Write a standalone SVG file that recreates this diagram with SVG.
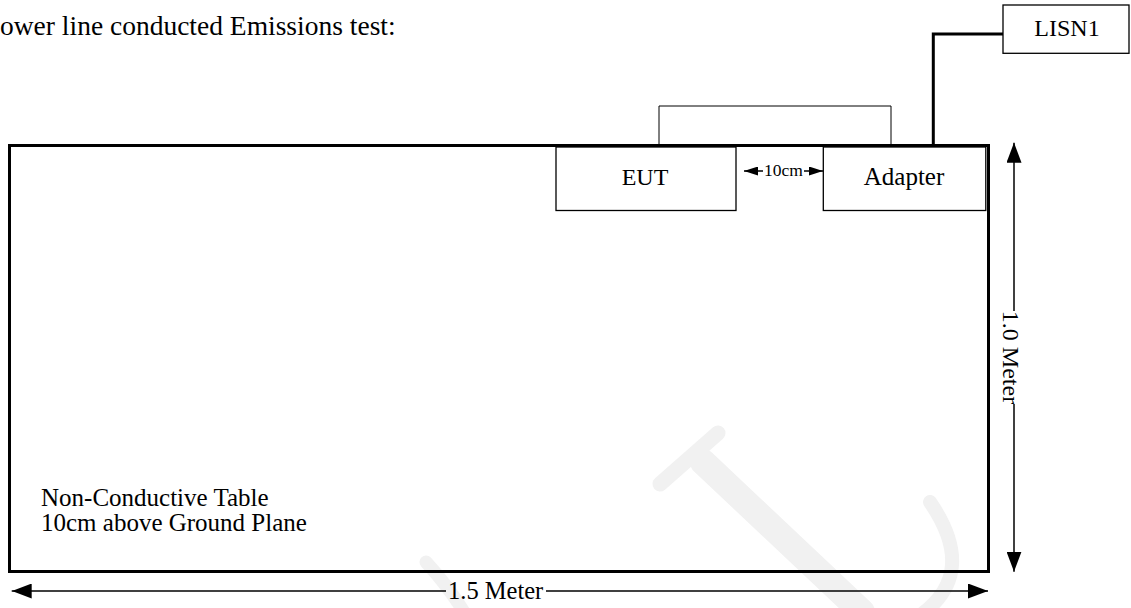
<svg xmlns="http://www.w3.org/2000/svg" width="1131" height="608" viewBox="0 0 1131 608">
<style>
text{font-family:"Liberation Serif","Times New Roman",serif;fill:#000}
.box{fill:#fff;stroke:#000;stroke-width:1.3}
.thick{fill:none;stroke:#000;stroke-width:3}
.thin{fill:none;stroke:#000;stroke-width:1}
.dim{fill:none;stroke:#000;stroke-width:1.5}
.wm{fill:none;stroke:#f1f1f1;stroke-linecap:round}
</style>
<defs>
<marker id="ah" viewBox="0 0 20 15" refX="20" refY="7.5" markerWidth="20" markerHeight="15" markerUnits="userSpaceOnUse" orient="auto"><path d="M0,0 L20,7.5 L0,15 z" fill="#000"/></marker>
<marker id="ahs" viewBox="0 0 14 9" refX="14" refY="4.5" markerWidth="14" markerHeight="9" markerUnits="userSpaceOnUse" orient="auto"><path d="M0,0 L14,4.5 L0,9 z" fill="#000"/></marker>
</defs>
<rect width="1131" height="608" fill="#fff"/>
<g id="watermark">
<path class="wm" d="M703,462 L862,612" stroke-width="26" stroke-linecap="butt"/>
<path class="wm" d="M660,484 L718,433" stroke-width="15"/>
<path class="wm" d="M930,502 Q978,572 922,614" stroke-width="14"/>
<path class="wm" d="M426,562 Q448,586 464,612" stroke-width="13"/>
</g>
<text id="title" x="0" y="35" font-size="27.5">ower line conducted Emissions test:</text>
<g id="table">
<rect x="9.5" y="145.5" width="979" height="426" class="thick"/>
<text x="41" y="506" font-size="25">Non-Conductive Table</text>
<text x="41" y="531" font-size="25">10cm above Ground Plane</text>
</g>
<g id="connectors">
<path class="thin" d="M659,145 V106 H891 V145"/>
<path class="thick" d="M933.3,145 V34 H1003"/>
<line class="dim" x1="763" y1="171" x2="744" y2="171" marker-end="url(#ahs)"/>
<line class="dim" x1="804" y1="171" x2="823" y2="171" marker-end="url(#ahs)"/>
<line class="dim" x1="1014" y1="311" x2="1014" y2="142.7" marker-end="url(#ah)"/>
<line class="dim" x1="1014" y1="404" x2="1014" y2="571.7" marker-end="url(#ah)"/>
<line class="dim" x1="446" y1="591" x2="11.7" y2="591" marker-end="url(#ah)"/>
<line class="dim" x1="546" y1="591" x2="988" y2="591" marker-end="url(#ah)"/>
</g>
<g id="eut">
<rect x="556" y="147" width="180" height="63.5" class="box"/>
<text x="645" y="185" font-size="24" text-anchor="middle">EUT</text>
</g>
<g id="adapter">
<rect x="823.3" y="147" width="162.5" height="63.5" class="box"/>
<text x="904" y="185" font-size="25" text-anchor="middle">Adapter</text>
</g>
<g id="lisn1">
<rect x="1003" y="5" width="126" height="48.3" class="box"/>
<text x="1067" y="36" font-size="24" text-anchor="middle">LISN1</text>
</g>
<g id="labels">
<text x="783.5" y="176" font-size="17.5" text-anchor="middle">10cm</text>
<text x="0" y="0" dy="11" font-size="24" text-anchor="middle" transform="translate(1014,357.5) rotate(90)">1.0 Meter</text>
<text x="448" y="599" font-size="24.5">1.5 Meter</text>
</g>
</svg>
